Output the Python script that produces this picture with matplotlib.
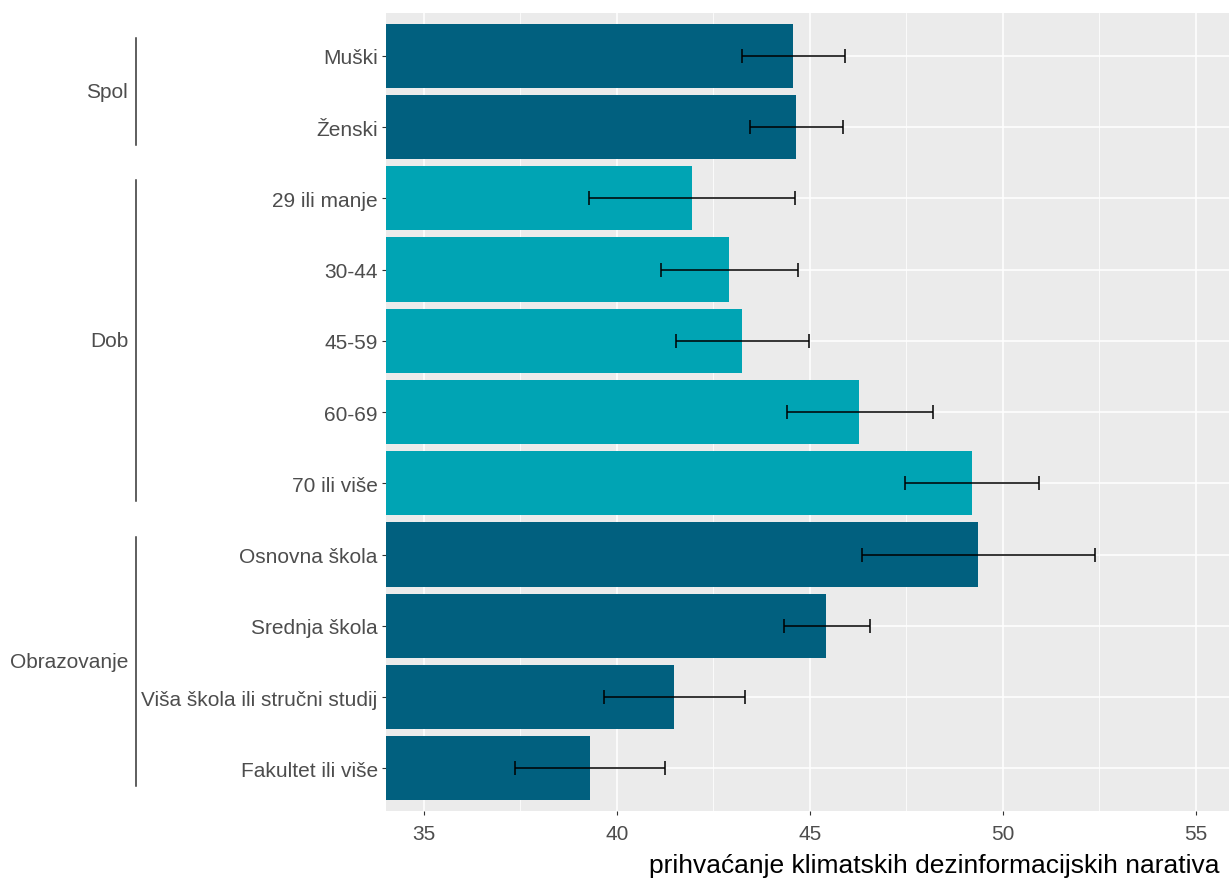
import matplotlib.pyplot as plt
import matplotlib.transforms as mtransforms

plt.rcParams['font.family'] = ['Liberation Sans', 'DejaVu Sans']

# categories (top to bottom), group membership and values
categories = ['Muški', 'Ženski', '29 ili manje', '30-44', '45-59', '60-69',
              '70 ili više', 'Osnovna škola', 'Srednja škola',
              'Viša škola ili stručni studij', 'Fakultet ili više']
groups = ['Spol', 'Spol', 'Dob', 'Dob', 'Dob', 'Dob', 'Dob',
          'Obrazovanje', 'Obrazovanje', 'Obrazovanje', 'Obrazovanje']
means = [44.56, 44.64, 41.95, 42.90, 43.24, 46.27, 49.20,
         49.36, 45.42, 41.48, 39.30]
ci_low = [43.24, 43.45, 39.28, 41.14, 41.53, 44.41, 47.47,
          46.35, 44.33, 39.67, 37.36]
ci_high = [45.91, 45.86, 44.62, 44.69, 44.98, 48.19, 50.94,
           52.39, 46.56, 43.32, 41.25]
group_order = ['Spol', 'Dob', 'Obrazovanje']
group_colors = {'Spol': '#01607F', 'Dob': '#00A4B4', 'Obrazovanje': '#01607F'}

fig = plt.figure(figsize=(12.29, 8.79), dpi=100)
ax = fig.add_axes([386 / 1229, 1 - 812 / 879, 1 - 386 / 1229, (812 - 14) / 879])
ax.set_facecolor('#EBEBEB')

y = list(range(len(categories)))
colors = [group_colors[g] for g in groups]
ax.barh(y, [m - 30 for m in means], left=30, height=0.9, color=colors, zorder=2)

err_lo = [m - lo for m, lo in zip(means, ci_low)]
err_hi = [hi - m for m, hi in zip(means, ci_high)]
ax.errorbar(means, y, xerr=[err_lo, err_hi], fmt='none', ecolor='black',
            elinewidth=1.1, capsize=5, capthick=1.1, zorder=3)

ax.set_xlim(34.016, 55.855)
ax.set_ylim(10.6, -0.6)
ax.set_xticks([35, 40, 45, 50, 55])
ax.set_xticks([37.5, 42.5, 47.5, 52.5], minor=True)
ax.set_yticks(y)
ax.set_yticklabels(categories)
ax.grid(which='major', color='white', linewidth=1.1, zorder=0)
ax.grid(which='minor', axis='x', color='white', linewidth=0.55, zorder=0)
ax.set_axisbelow(True)
for s in ax.spines.values():
    s.set_visible(False)
ax.tick_params(axis='both', which='major', length=3, width=0.8, color='#333333',
               labelcolor='#4D4D4D', labelsize=15, pad=3)
ax.tick_params(axis='x', which='major', pad=6)
ax.tick_params(axis='x', which='minor', length=0)

# group brackets and labels on the left
trans = mtransforms.blended_transform_factory(fig.transFigure, ax.transData)
for g in group_order:
    idx = [i for i, gg in enumerate(groups) if gg == g]
    top, bottom = idx[0] - 0.25, idx[-1] + 0.25
    ax.plot([136 / 1229, 136 / 1229], [top, bottom], color='#333333',
            linewidth=1.1, transform=trans, clip_on=False)
    ax.text(128 / 1229, (idx[0] + idx[-1]) / 2, g, transform=trans,
            ha='right', va='center', fontsize=15, color='#4D4D4D')

fig.text(649 / 1229, 1 - 873 / 879, 'prihvaćanje klimatskih dezinformacijskih narativa',
         ha='left', va='baseline', fontsize=19, color='black')

fig.savefig('out.png', dpi=100)
